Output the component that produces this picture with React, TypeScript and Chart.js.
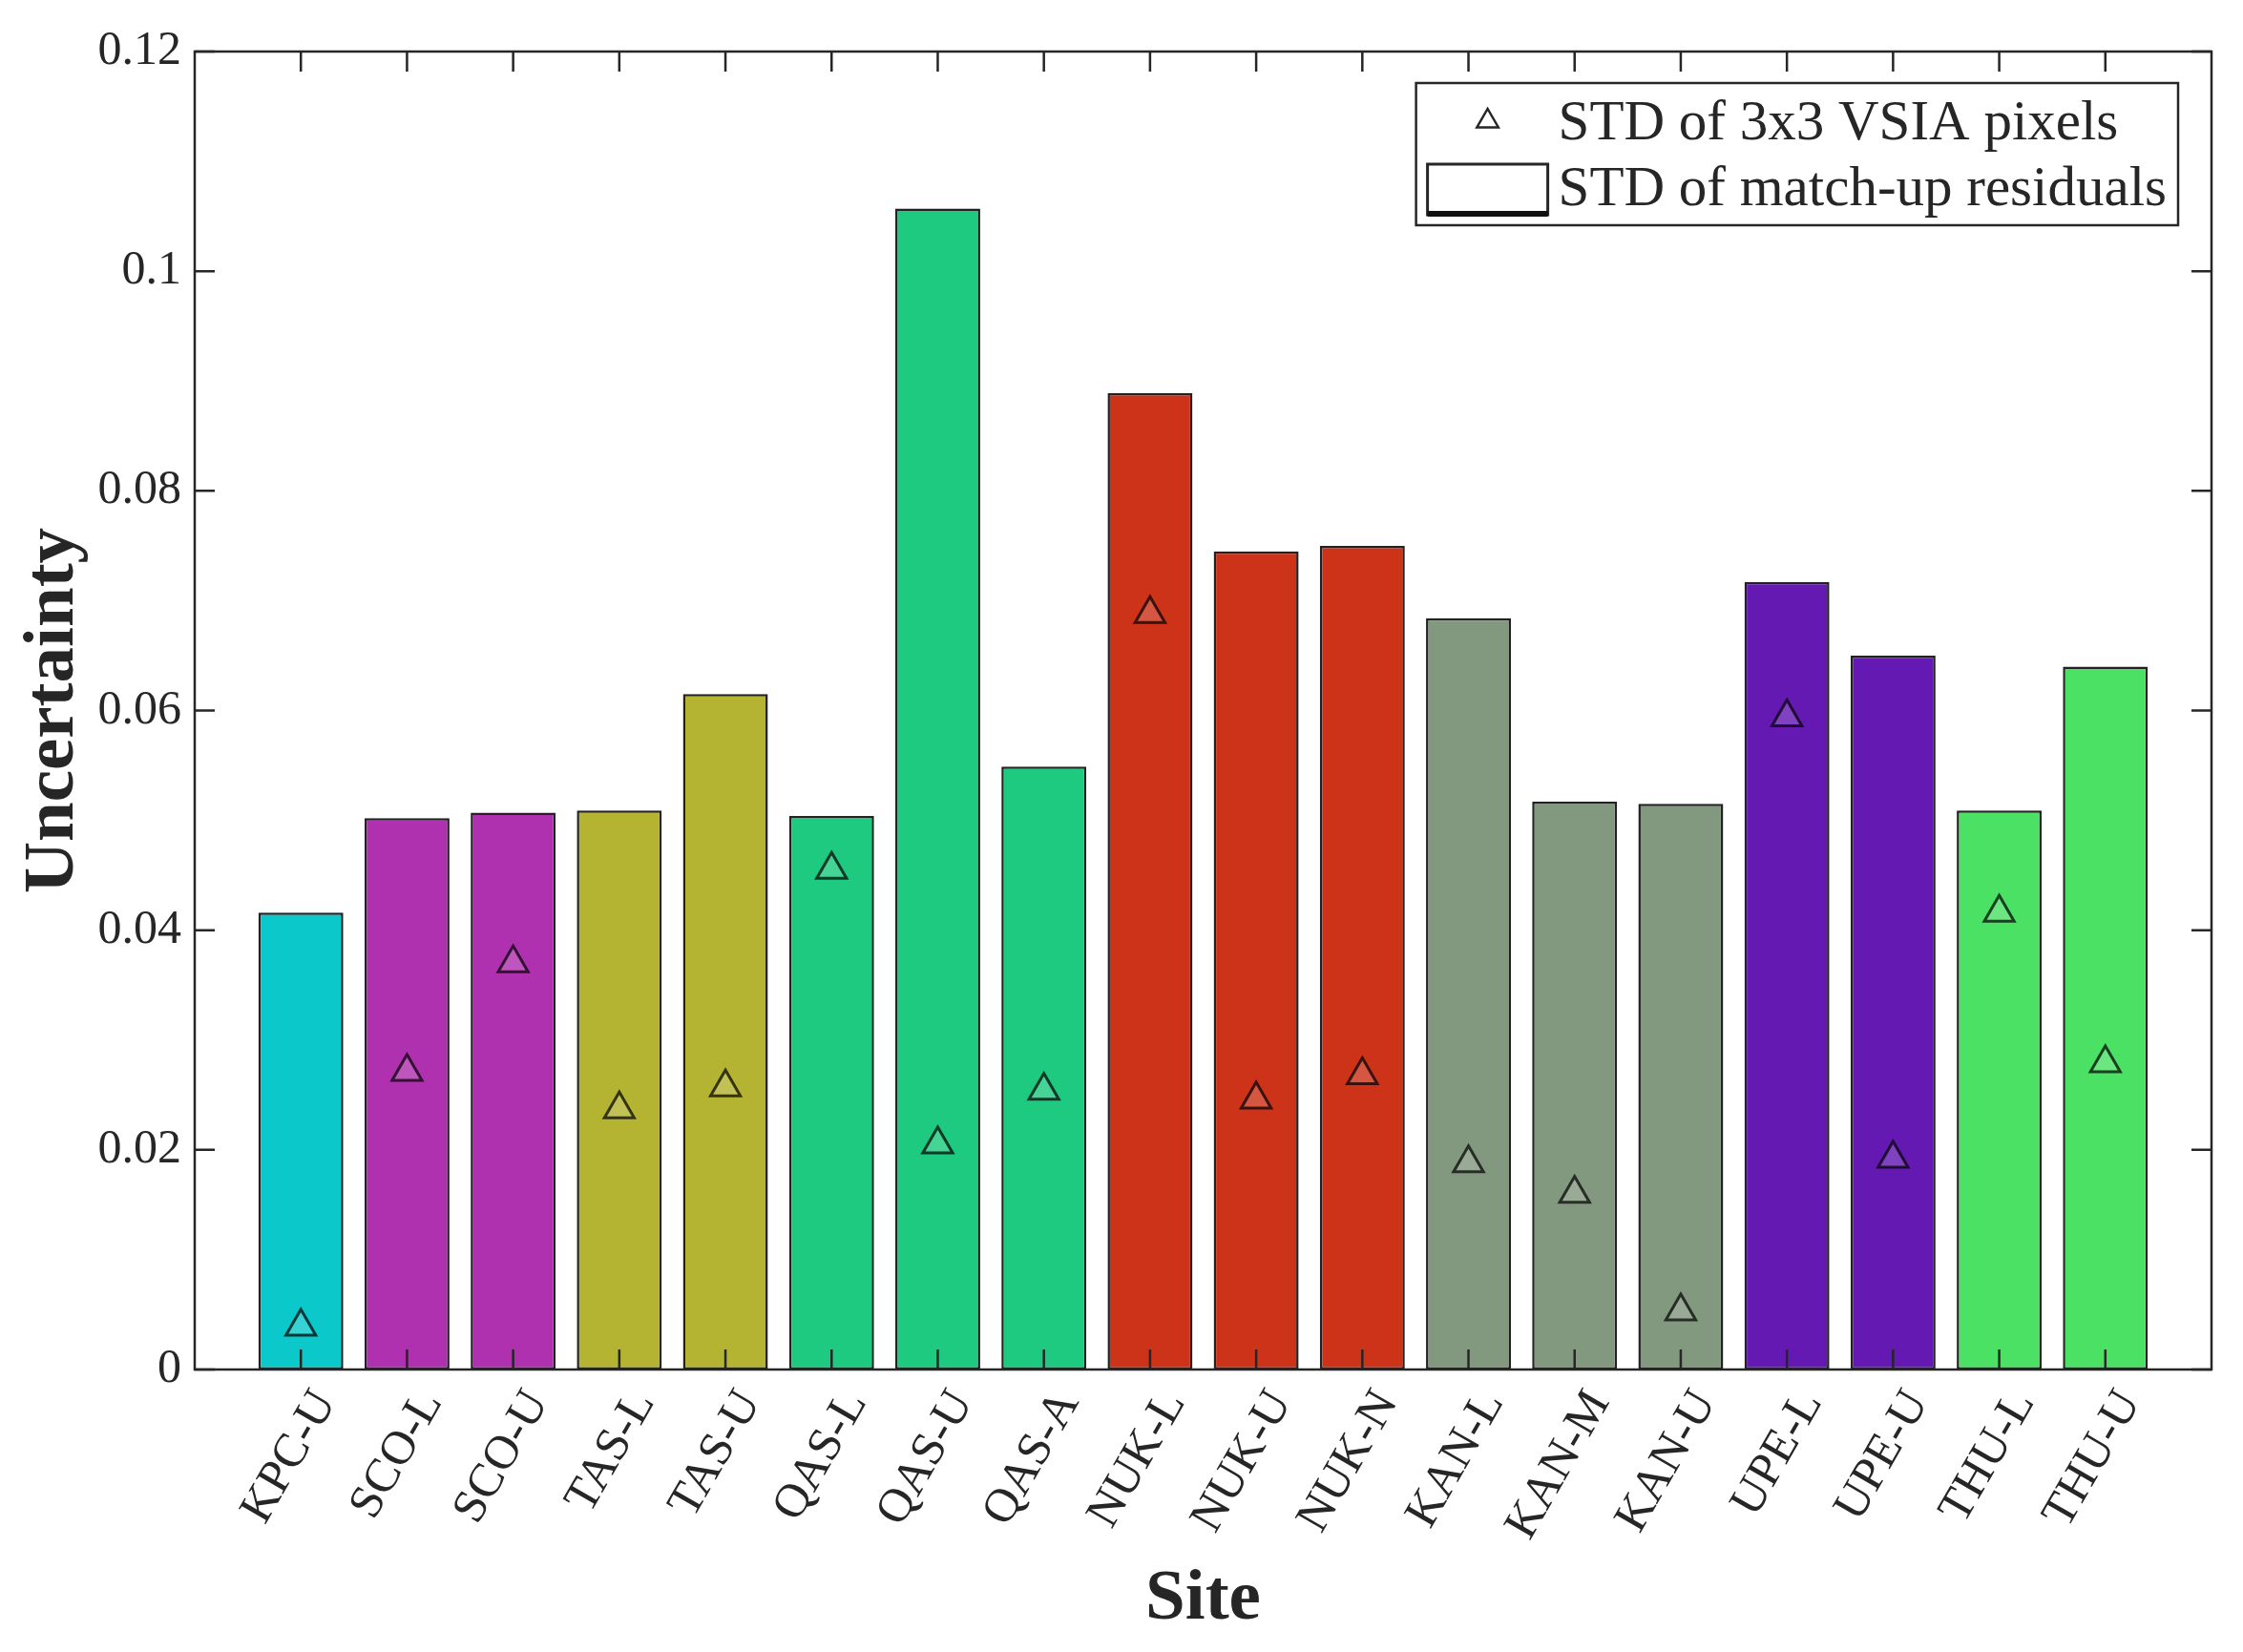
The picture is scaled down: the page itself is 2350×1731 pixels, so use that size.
import React, { useEffect, useRef } from "react";
import { Chart, registerables } from "chart.js";

Chart.register(...registerables);

// ---- data ----
const sites = [
  "KPC-U", "SCO-L", "SCO-U", "TAS-L", "TAS-U", "QAS-L", "QAS-U", "QAS-A", "NUK-L",
  "NUK-U", "NUK-N", "KAN-L", "KAN-M", "KAN-U", "UPE-L", "UPE-U", "THU-L", "THU-U",
];
const residualStd = [
  0.0416, 0.0502, 0.0507, 0.0509, 0.0615, 0.0504, 0.1057, 0.0549, 0.0889,
  0.0745, 0.0750, 0.0684, 0.0517, 0.0515, 0.0717, 0.0650, 0.0509, 0.0640,
];
const pixelStd = [
  0.0039, 0.0271, 0.0370, 0.0237, 0.0257, 0.0455, 0.0205, 0.0254, 0.0688,
  0.0246, 0.0268, 0.0188, 0.0160, 0.0053, 0.0594, 0.0192, 0.0416, 0.0279,
];
const yTickLabels = ["0", "0.02", "0.04", "0.06", "0.08", "0.1", "0.12"];
const legendLabels = ["STD of 3x3 VSIA pixels", "STD of match-up residuals"];

// one colour per site group
const barColors = [
  "#0bc8cb",
  "#b031b0", "#b031b0",
  "#b4b432", "#b4b432",
  "#1dca7f", "#1dca7f", "#1dca7f",
  "#cc3319", "#cc3319", "#cc3319",
  "#83997f", "#83997f", "#83997f",
  "#6519b3", "#6519b3",
  "#4be165", "#4be165",
];

const SERIF = '"Liberation Serif", "Times New Roman", serif';
const INK = "#262626";
const TICK_LEN = 21;

// MATLAB-style box with inward ticks on all four sides
const boxTicks = {
  id: "boxTicks",
  afterDatasetsDraw(chart: Chart) {
    const { ctx, chartArea: a } = chart;
    const xs = chart.scales.x;
    const ys = chart.scales.y;
    ctx.save();
    ctx.strokeStyle = INK;
    ctx.lineWidth = 2.5;
    ctx.beginPath();
    for (let i = 0; i < sites.length; i++) {
      const px = xs.getPixelForValue(i + 1);
      ctx.moveTo(px, a.bottom);
      ctx.lineTo(px, a.bottom - TICK_LEN);
      ctx.moveTo(px, a.top);
      ctx.lineTo(px, a.top + TICK_LEN);
    }
    for (const t of ys.ticks) {
      const py = ys.getPixelForValue(t.value);
      ctx.moveTo(a.left, py);
      ctx.lineTo(a.left + TICK_LEN, py);
      ctx.moveTo(a.right, py);
      ctx.lineTo(a.right - TICK_LEN, py);
    }
    ctx.stroke();
    ctx.strokeRect(a.left, a.top, a.right - a.left, a.bottom - a.top);
    ctx.restore();
  },
};

const boxLegend = {
  id: "boxLegend",
  afterDraw(chart: Chart) {
    const { ctx, chartArea: a } = chart;
    ctx.save();
    ctx.font = `59px ${SERIF}`;
    const textW = Math.max(...legendLabels.map((t) => ctx.measureText(t).width));
    const w = 149 + textW + 12;
    const h = 149;
    const right = a.right - 35;
    const left = right - w;
    const top = a.top + 33;

    ctx.fillStyle = "#fff";
    ctx.fillRect(left, top, w, h);
    ctx.strokeStyle = INK;
    ctx.lineWidth = 2.5;
    ctx.strokeRect(left, top, w, h);

    // triangle marker
    const cx = left + 75;
    const cy = top + 40;
    const r = 13;
    ctx.beginPath();
    ctx.moveTo(cx, cy - r);
    ctx.lineTo(cx + r * 0.866, cy + r * 0.5);
    ctx.lineTo(cx - r * 0.866, cy + r * 0.5);
    ctx.closePath();
    ctx.lineWidth = 2.5;
    ctx.stroke();

    // bar patch
    ctx.fillStyle = "#fff";
    ctx.fillRect(left + 12, top + 85, 126, 53);
    ctx.lineWidth = 3;
    ctx.strokeRect(left + 12, top + 85, 126, 53);
    ctx.fillStyle = "#111";
    ctx.fillRect(left + 12, top + 134, 126, 6);

    ctx.fillStyle = INK;
    ctx.textBaseline = "middle";
    ctx.textAlign = "left";
    ctx.fillText(legendLabels[0], left + 149, top + 43);
    ctx.fillText(legendLabels[1], left + 149, top + 112);
    ctx.restore();
  },
};

export default function App() {
  const canvasRef = useRef<HTMLCanvasElement | null>(null);

  useEffect(() => {
    document.body.style.margin = "0";
    const ctx = canvasRef.current?.getContext("2d");
    if (!ctx) return;

    const chart = new Chart(ctx, {
      type: "bar",
      data: {
        datasets: [
          {
            type: "line",
            label: legendLabels[0],
            data: pixelStd.map((v, i) => ({ x: i + 1, y: v })),
            showLine: false,
            pointStyle: "triangle",
            pointRadius: 18,
            pointBorderWidth: 3,
            pointBorderColor: "rgba(0,0,0,0.72)",
            pointBackgroundColor: "rgba(255,255,255,0.18)",
            order: 0,
          } as any,
          {
            type: "bar",
            label: legendLabels[1],
            data: residualStd.map((v, i) => ({ x: i + 1, y: v })),
            backgroundColor: barColors,
            borderColor: "rgba(10,10,10,0.9)",
            borderWidth: 2.5,
            borderSkipped: false,
            barPercentage: 0.8,
            categoryPercentage: 1.0,
            order: 1,
          },
        ],
      },
      options: {
        responsive: true,
        maintainAspectRatio: false,
        animation: false,
        layout: { padding: { left: 0, right: 33, top: 54, bottom: 0 } },
        plugins: { legend: { display: false }, tooltip: { enabled: false } },
        scales: {
          x: {
            type: "linear",
            min: 0,
            max: sites.length + 1,
            offset: false,
            grid: { display: false, drawTicks: false },
            border: { display: false },
            afterFit: (s: any) => { s.height = 296; },
            afterBuildTicks: (s: any) => {
              s.ticks = Array.from({ length: sites.length }, (_, i) => ({ value: i + 1 }));
            },
            ticks: {
              autoSkip: false,
              stepSize: 1,
              minRotation: 60,
              maxRotation: 60,
              padding: 12,
              labelOffset: 26,
              color: INK,
              font: { family: SERIF, size: 50 },
              callback: (v: any) => sites[Number(v) - 1] ?? "",
            },
            title: {
              display: true,
              text: "Site",
              color: INK,
              font: { family: SERIF, size: 75, weight: "bold" },
              padding: { top: 0, bottom: 9 },
            },
          },
          y: {
            min: 0,
            max: 0.12,
            grid: { display: false, drawTicks: false },
            border: { display: false },
            afterFit: (s: any) => { s.width = 204; },
            ticks: {
              stepSize: 0.02,
              padding: 14,
              color: INK,
              font: { family: SERIF, size: 50 },
              callback: (_v: any, i: number) => yTickLabels[i],
            },
            title: {
              display: true,
              text: "Uncertainty",
              color: INK,
              font: { family: SERIF, size: 75, weight: "bold" },
              padding: { top: 12, bottom: 0 },
            },
          },
        },
      },
      plugins: [boxTicks, boxLegend],
    });

    return () => chart.destroy();
  }, []);

  return (
    <div style={{ width: 2350, height: 1731, position: "relative", background: "#fff" }}>
      <canvas ref={canvasRef} />
    </div>
  );
}
